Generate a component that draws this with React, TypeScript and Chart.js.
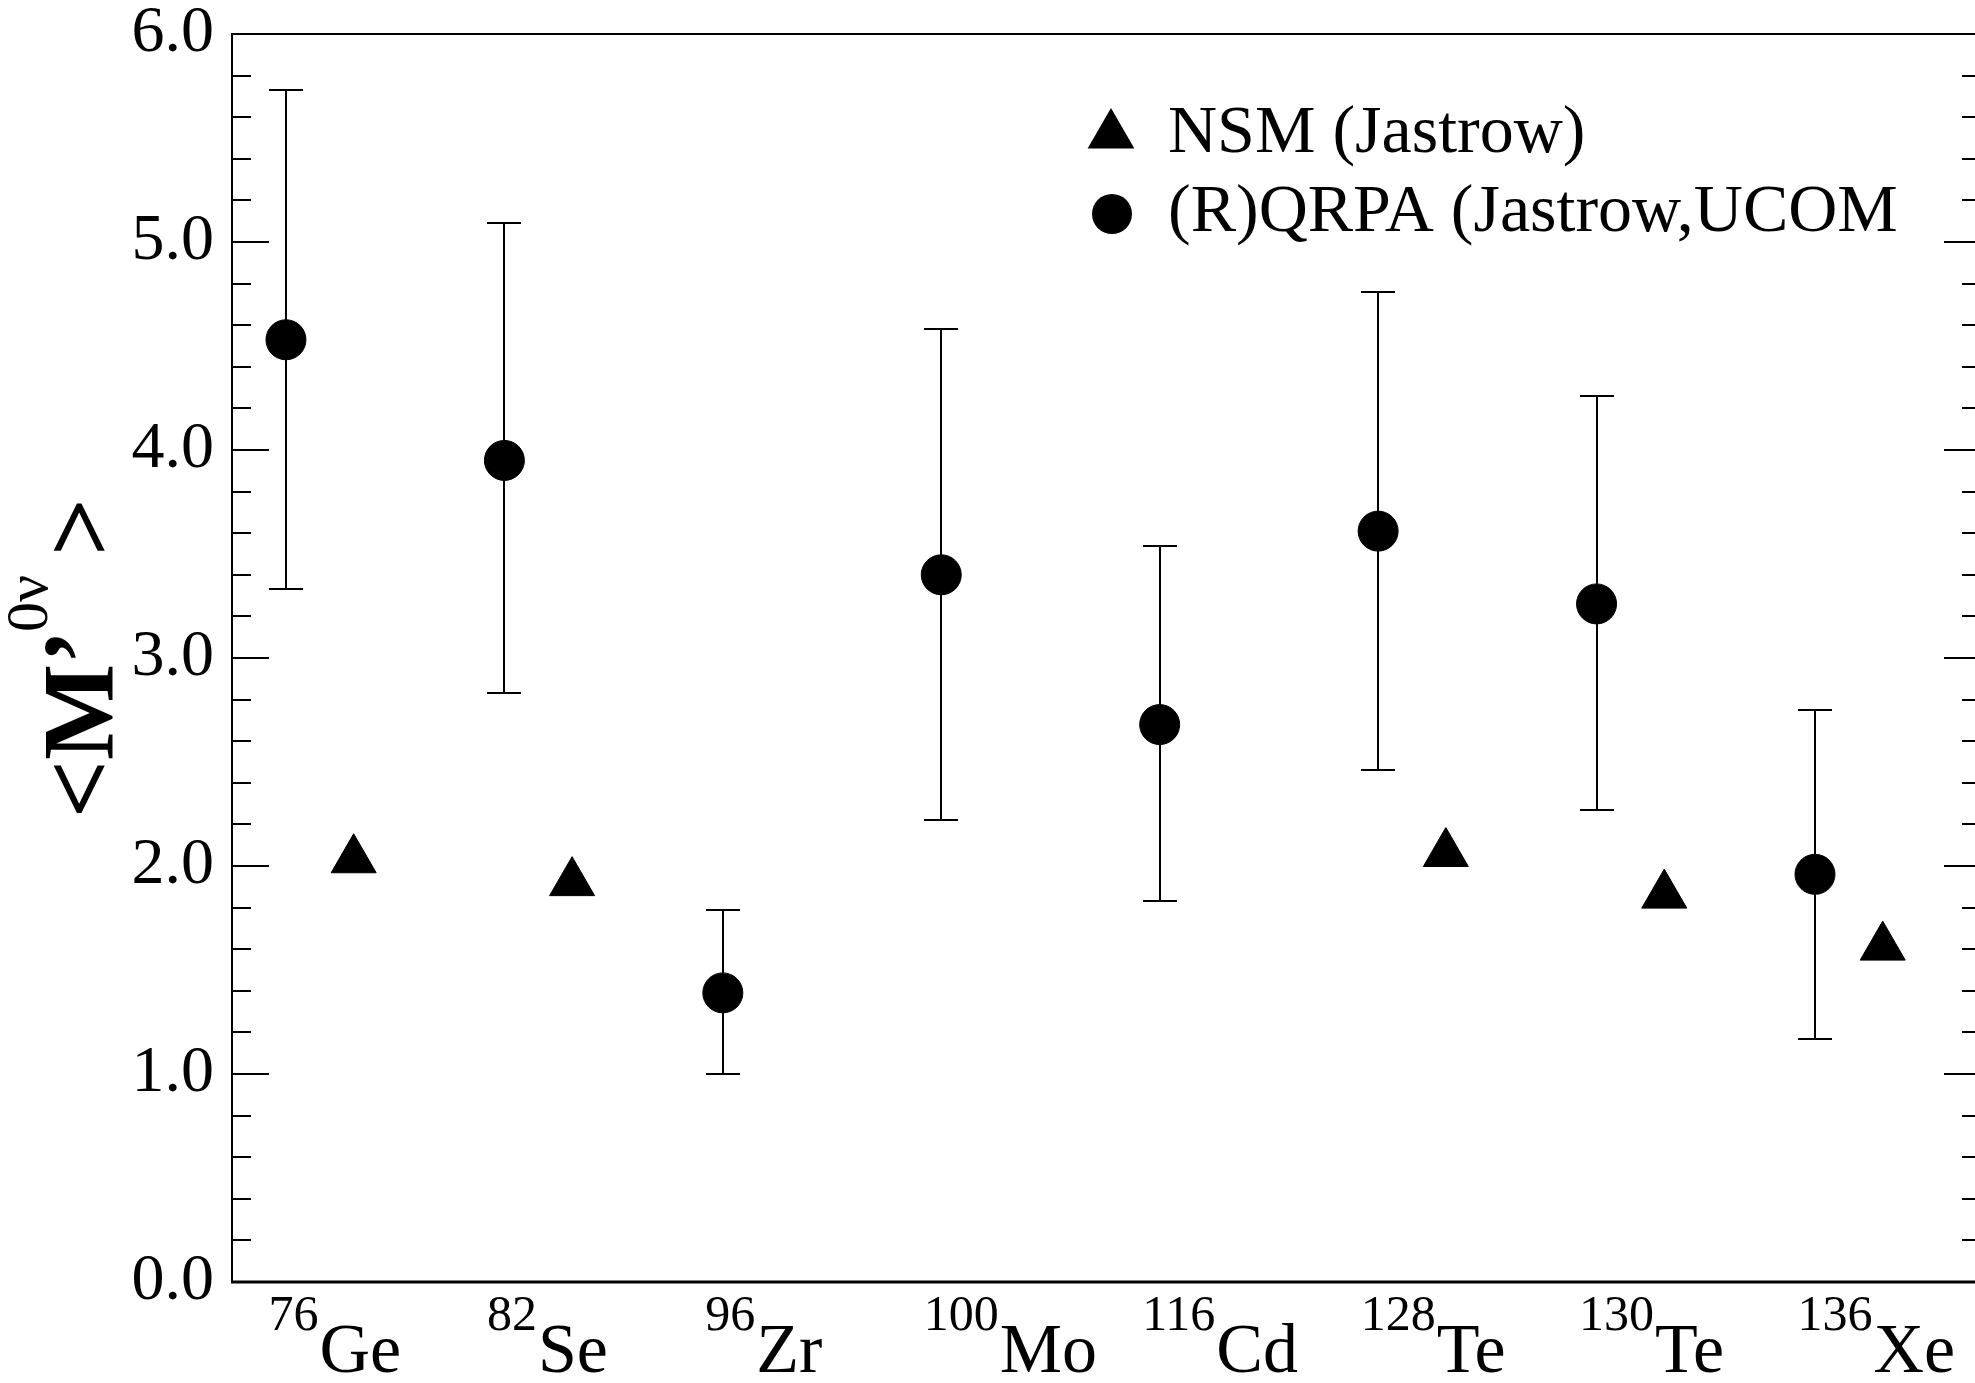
import React, { useEffect, useRef } from 'react';
import { Chart, registerables } from 'chart.js';

Chart.register(...registerables);

// Nuclei (element symbol + mass number) along the horizontal axis
const nuclei = ['Ge', 'Se', 'Zr', 'Mo', 'Cd', 'Te', 'Te', 'Xe'];
const massNumbers = ['76', '82', '96', '100', '116', '128', '130', '136'];

// (R)QRPA central values with the upper / lower ends of their ranges
const qrpaValues = [4.53, 3.95, 1.39, 3.4, 2.68, 3.61, 3.26, 1.96];
const qrpaUpper = [5.73, 5.09, 1.79, 4.58, 3.54, 4.76, 4.26, 2.75];
const qrpaLower = [3.33, 2.83, 1.0, 2.22, 1.83, 2.46, 2.27, 1.17];

// Shell-model results (not available for every nucleus)
const nsmValues: (number | null)[] = [2.03, 1.92, null, null, null, 2.06, 1.86, 1.61];

const legendLabels = ['NSM (Jastrow)', '(R)QRPA (Jastrow,UCOM'];
const yTickValues = [0, 1, 2, 3, 4, 5, 6];

const SERIF = '"Liberation Serif", "Times New Roman", Times, serif';
const NSM_SHIFT = 0.31; // shell-model marker sits to the right of its nucleus
const LABEL_SHIFT = -0.08; // nucleus label starts slightly left of the point
const MINOR_STEP = 0.2;

function drawTriangle(ctx: CanvasRenderingContext2D, cx: number, cy: number, r: number) {
  ctx.beginPath();
  ctx.moveTo(cx, cy - r);
  ctx.lineTo(cx + r * Math.sin((2 * Math.PI) / 3), cy + r / 2);
  ctx.lineTo(cx - r * Math.sin((2 * Math.PI) / 3), cy + r / 2);
  ctx.closePath();
  ctx.fill();
}

const errorBarPlugin = {
  id: 'errorBars',
  beforeDatasetsDraw(chart: any) {
    const { ctx, scales } = chart;
    const xs = scales.x;
    const ys = scales.y;
    ctx.save();
    ctx.strokeStyle = '#000';
    ctx.lineWidth = 2;
    qrpaValues.forEach((_, i) => {
      const px = Math.round(xs.getPixelForValue(i + 1));
      const top = Math.round(ys.getPixelForValue(qrpaUpper[i]));
      const bot = Math.round(ys.getPixelForValue(qrpaLower[i]));
      ctx.beginPath();
      ctx.moveTo(px, top);
      ctx.lineTo(px, bot);
      ctx.moveTo(px - 17, top);
      ctx.lineTo(px + 17, top);
      ctx.moveTo(px - 17, bot);
      ctx.lineTo(px + 17, bot);
      ctx.stroke();
    });
    ctx.restore();
  },
};

const framePlugin = {
  id: 'frameAndLabels',
  afterDraw(chart: any) {
    const { ctx, chartArea: a, scales } = chart;
    const xs = scales.x;
    const ys = scales.y;
    ctx.save();
    ctx.strokeStyle = '#000';
    ctx.fillStyle = '#000';

    // plot frame
    ctx.lineWidth = 2;
    ctx.beginPath();
    ctx.moveTo(a.left, a.bottom);
    ctx.lineTo(a.left, a.top);
    ctx.lineTo(a.right, a.top);
    ctx.lineTo(a.right, a.bottom);
    ctx.stroke();
    ctx.lineWidth = 3;
    ctx.beginPath();
    ctx.moveTo(a.left - 1, a.bottom);
    ctx.lineTo(a.right, a.bottom);
    ctx.stroke();

    // inward major / minor ticks on both vertical axes
    ctx.lineWidth = 2;
    const yMin = yTickValues[0];
    const yMax = yTickValues[yTickValues.length - 1];
    const n = Math.round((yMax - yMin) / MINOR_STEP);
    for (let k = 0; k <= n; k++) {
      const v = yMin + k * MINOR_STEP;
      const py = Math.round(ys.getPixelForValue(v));
      const len = k % 5 === 0 ? 37 : 19;
      ctx.beginPath();
      ctx.moveTo(a.left, py);
      ctx.lineTo(a.left + len, py);
      ctx.moveTo(a.right, py);
      ctx.lineTo(a.right - len, py);
      ctx.stroke();
    }

    // nucleus labels with superscript mass numbers
    ctx.textBaseline = 'alphabetic';
    ctx.textAlign = 'left';
    nuclei.forEach((sym, i) => {
      const left = xs.getPixelForValue(i + 1 + LABEL_SHIFT);
      ctx.font = `50px ${SERIF}`;
      ctx.fillText(massNumbers[i], left, a.bottom + 48);
      const w = ctx.measureText(massNumbers[i]).width;
      ctx.font = `70px ${SERIF}`;
      ctx.fillText(sym, left + w + 1, a.bottom + 90);
    });

    // vertical axis title  <M'^{0ν}>
    ctx.save();
    ctx.translate(113, 818);
    ctx.rotate(-Math.PI / 2);
    ctx.font = `bold 102px ${SERIF}`;
    ctx.fillText('<', 0, 0);
    ctx.fillText('M', 58, 0);
    ctx.fillText('\u2019', 154, 0);
    ctx.font = `60px ${SERIF}`;
    ctx.fillText('0\u03BD', 186, -66);
    ctx.font = `bold 102px ${SERIF}`;
    ctx.fillText('>', 262, 0);
    ctx.restore();

    // legend
    drawTriangle(ctx, 1111, 135, 27);
    ctx.beginPath();
    ctx.arc(1112, 214, 20, 0, Math.PI * 2);
    ctx.fill();
    ctx.font = `68px ${SERIF}`;
    ctx.fillText(legendLabels[0], 1168, 152);
    ctx.fillText(legendLabels[1], 1168, 231);

    ctx.restore();
  },
};

export default function App() {
  const canvasRef = useRef<HTMLCanvasElement>(null);

  useEffect(() => {
    const canvas = canvasRef.current;
    if (!canvas) return;

    const nsmPoints = nsmValues
      .map((v, i) => (v == null ? null : { x: i + 1 + NSM_SHIFT, y: v }))
      .filter((p) => p !== null) as { x: number; y: number }[];
    const qrpaPoints = qrpaValues.map((v, i) => ({ x: i + 1, y: v }));

    const chart = new Chart(canvas, {
      type: 'scatter',
      data: {
        datasets: [
          {
            label: legendLabels[0],
            data: nsmPoints,
            pointStyle: 'triangle',
            pointRadius: 26,
            pointBorderWidth: 1,
            backgroundColor: '#000',
            borderColor: '#000',
            showLine: false,
          },
          {
            label: legendLabels[1],
            data: qrpaPoints,
            pointStyle: 'circle',
            pointRadius: 20,
            pointBorderWidth: 1,
            backgroundColor: '#000',
            borderColor: '#000',
            showLine: false,
          },
        ],
      },
      options: {
        responsive: false,
        animation: false,
        devicePixelRatio: 1,
        layout: { autoPadding: false, padding: { top: 34, right: 9, bottom: 101, left: 0 } },
        plugins: {
          legend: { display: false },
          tooltip: { enabled: false },
        },
        scales: {
          x: {
            type: 'linear',
            min: 0.753,
            max: 8.76,
            display: false,
          },
          y: {
            type: 'linear',
            min: yTickValues[0],
            max: yTickValues[yTickValues.length - 1],
            afterFit: (s: any) => {
              s.width = 232;
            },
            grid: { display: false, drawTicks: true, tickLength: 18 },
            border: { display: false },
            ticks: {
              stepSize: 1,
              padding: 0,
              color: '#000',
              font: { family: SERIF, size: 66, lineHeight: 1 },
              callback: (v: any) => Number(v).toFixed(1),
            },
          },
        },
      },
      plugins: [errorBarPlugin, framePlugin],
    });

    return () => chart.destroy();
  }, []);

  return (
    <div
      style={{
        position: 'fixed',
        left: 0,
        top: 0,
        width: 1975,
        height: 1383,
        overflow: 'hidden',
        background: '#fff',
      }}
    >
      <canvas ref={canvasRef} width={1990} height={1383} style={{ display: 'block', width: 1990, height: 1383 }} />
    </div>
  );
}
